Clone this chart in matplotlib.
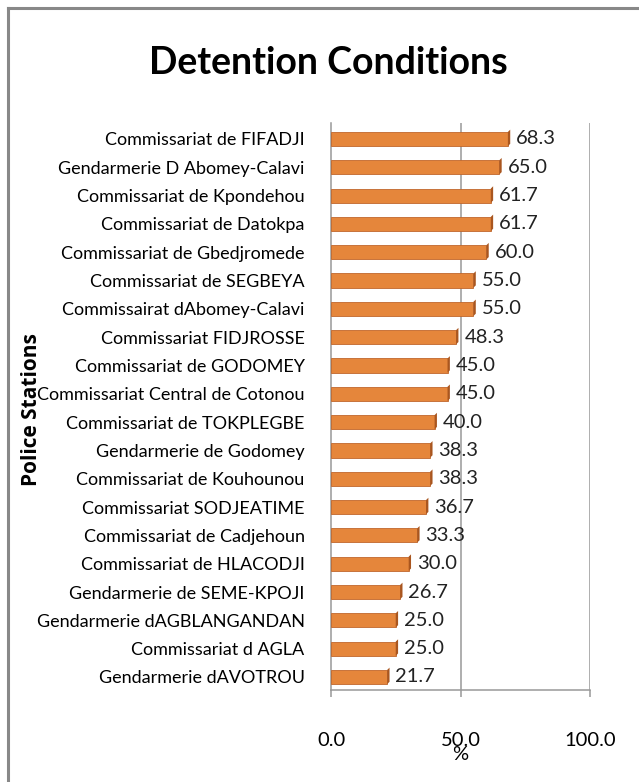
import matplotlib.pyplot as plt
from matplotlib.patches import Polygon

stations = [
    "Commissariat de FIFADJI",
    "Gendarmerie D Abomey-Calavi",
    "Commissariat de Kpondehou",
    "Commissariat de Datokpa",
    "Commissariat de Gbedjromede",
    "Commissariat de SEGBEYA",
    "Commissairat dAbomey-Calavi",
    "Commissariat FIDJROSSE",
    "Commissariat de GODOMEY",
    "Commissariat Central de Cotonou",
    "Commissariat de TOKPLEGBE",
    "Gendarmerie de Godomey",
    "Commissariat de Kouhounou",
    "Commissariat SODJEATIME",
    "Commissariat de Cadjehoun",
    "Commissariat de HLACODJI",
    "Gendarmerie de SEME-KPOJI",
    "Gendarmerie dAGBLANGANDAN",
    "Commissariat d AGLA",
    "Gendarmerie dAVOTROU",
]
values = [68.3, 65.0, 61.7, 61.7, 60.0, 55.0, 55.0, 48.3, 45.0, 45.0,
          40.0, 38.3, 38.3, 36.7, 33.3, 30.0, 26.7, 25.0, 25.0, 21.7]
xticks = [0, 50, 100]

FONT = ["Lato", "DejaVu Sans"]
W, H = 639, 782
fig = plt.figure(figsize=(W / 100, H / 100), dpi=100)

# outer frame (only top/left edges visible in the original crop)
fig.add_artist(plt.Line2D([8 / W, 8 / W], [0, 1 - 8 / H], color="#888888", lw=2.2,
                          transform=fig.transFigure))
fig.add_artist(plt.Line2D([8 / W, 1], [1 - 8 / H, 1 - 8 / H], color="#888888", lw=2.2,
                          transform=fig.transFigure))

ax = fig.add_axes([331 / W, 92 / H, 259 / W, 567 / H])

y = list(range(len(stations)))
bh = 0.5
ax.barh(y, values, height=bh, color="#E5863B", edgecolor="#C0672C", linewidth=0.6, zorder=3)
# darker end caps to fake the 3D look
for yi, v in zip(y, values):
    cap = Polygon([(v, yi - bh / 2), (v + 0.9, yi - bh / 2 - 0.08),
                   (v + 0.9, yi + bh / 2 - 0.08), (v, yi + bh / 2)],
                  closed=True, facecolor="#A9561F", edgecolor="none", zorder=4)
    ax.add_patch(cap)
    ax.text(v + 3.2, yi, f"{v:.1f}", va="center", ha="left", fontsize=14.5,
            family=FONT, color="#222222", zorder=5)

for gx in [50, 100]:
    ax.axvline(gx, color="#999999", lw=1.1, zorder=1)

ax.set_xlim(0, 100)
ax.set_ylim(19.46, -0.565)
ax.set_xticks(xticks)
ax.set_xticklabels([f"{t:.1f}" for t in xticks], family=FONT, fontsize=14.5)
ax.set_yticks(y)
ax.set_yticklabels(stations, family=FONT, fontsize=13)
ax.tick_params(axis="y", length=0, pad=19)
ax.tick_params(axis="x", length=5, width=1.1, color="#999999", pad=25)

for side in ["top", "right"]:
    ax.spines[side].set_visible(False)
for side in ["left", "bottom"]:
    ax.spines[side].set_color("#999999")
    ax.spines[side].set_linewidth(1.1)

fig.text(328 / W, 1 - 63 / H, "Detention Conditions", ha="center", va="center",
         fontsize=27, fontweight="bold", family=FONT)
fig.text(32 / W, 1 - 410 / H, "Police Stations", ha="center", va="center",
         rotation=90, fontsize=15, fontweight="bold", family=["Open Sans", "DejaVu Sans"])
fig.text(460 / W, 1 - 755 / H, "%", ha="center", va="center", fontsize=14.5,
         family=FONT)

fig.savefig("out.png", dpi=100)
